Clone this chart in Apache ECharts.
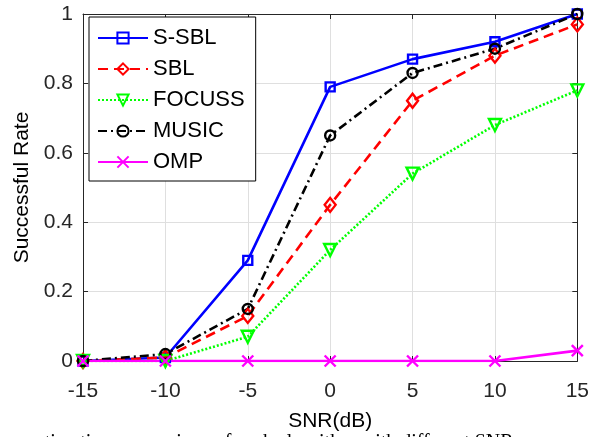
<!DOCTYPE html>
<html>
<head>
<meta charset="utf-8">
<script src="https://cdn.jsdelivr.net/npm/echarts@6/dist/echarts.min.js"></script>
<style>
html,body{margin:0;padding:0;background:#fff;}
#chart{width:592px;height:437px;}
</style>
</head>
<body>
<div id="chart"></div>
<script>
const snr = [-15, -10, -5, 0, 5, 10, 15];
const sSBL   = [0, 0.01, 0.29, 0.79, 0.87, 0.92, 1.0];
const sbl    = [0, 0.01, 0.13, 0.45, 0.75, 0.88, 0.97];
const focuss = [0, 0, 0.07, 0.32, 0.54, 0.68, 0.78];
const music  = [0, 0.02, 0.15, 0.65, 0.83, 0.90, 1.0];
const omp    = [0, 0, 0, 0, 0, 0, 0.03];
const xTicks = [-15, -10, -5, 0, 5, 10, 15];
const yTicks = [0, 0.2, 0.4, 0.6, 0.8, 1];

const FONT = 'Liberation Sans';
const AX = '#262626';

function pts(arr){ return snr.map((x,i)=>[x, arr[i]]); }

function mk(name, data, color, type, symbol, size, extra){
  return Object.assign({
    name: name, type: 'line', data: pts(data),
    symbol: symbol, symbolSize: size,
    showAllSymbol: true,
    lineStyle: {color: color, width: 2.6, type: type},
    itemStyle: {color: 'rgba(0,0,0,0)', borderColor: color, borderWidth: 2.4},
    emphasis: {disabled: true},
    animation: false
  }, extra || {});
}

const chart = echarts.init(document.getElementById('chart'), null, {renderer: 'canvas'});
const gridLine = {show: true, lineStyle: {color: '#dfdfdf', width: 1}};
const option = {
  backgroundColor: '#fff',
  animation: false,
  grid: {left: 83, right: 13, top: 14, bottom: 74},
  legend: {
    orient: 'vertical', left: 89, top: 17,
    backgroundColor: '#fff', borderColor: '#000', borderWidth: 1,
    padding: [10, 11, 8, 8],
    itemWidth: 50, itemHeight: 14, itemGap: 9,
    textStyle: {fontFamily: FONT, fontSize: 22, color: '#000'},
    data: ['S-SBL', 'SBL', 'FOCUSS', 'MUSIC', 'OMP']
  },
  xAxis: [{
    type: 'value', min: xTicks[0], max: xTicks[xTicks.length-1], interval: 5,
    name: 'SNR(dB)', nameLocation: 'middle', nameGap: 50,
    nameTextStyle: {fontFamily: FONT, fontSize: 21, color: '#000'},
    axisLine: {show: true, onZero: false, lineStyle: {color: AX, width: 1}},
    axisTick: {show: true, inside: true, length: 5, lineStyle: {color: AX}},
    axisLabel: {fontFamily: FONT, fontSize: 21, color: AX, margin: 20},
    splitLine: gridLine
  }, {
    type: 'value', position: 'top', min: -15, max: 15, interval: 5,
    axisLine: {show: true, onZero: false, lineStyle: {color: AX, width: 1}},
    axisTick: {show: true, inside: true, length: 5, lineStyle: {color: AX}},
    axisLabel: {show: false}, splitLine: {show: false}
  }],
  yAxis: [{
    type: 'value', min: yTicks[0], max: yTicks[yTicks.length-1], interval: 0.2,
    name: 'Successful Rate', nameLocation: 'middle', nameGap: 49,
    nameTextStyle: {fontFamily: FONT, fontSize: 21, color: '#000'},
    axisLine: {show: true, onZero: false, lineStyle: {color: AX, width: 1}},
    axisTick: {show: true, inside: true, length: 5, lineStyle: {color: AX}},
    axisLabel: {fontFamily: FONT, fontSize: 21, color: AX, margin: 10},
    splitLine: gridLine
  }, {
    type: 'value', position: 'right', min: 0, max: 1, interval: 0.2,
    axisLine: {show: true, onZero: false, lineStyle: {color: AX, width: 1}},
    axisTick: {show: true, inside: true, length: 5, lineStyle: {color: AX}},
    axisLabel: {show: false}, splitLine: {show: false}
  }],
  series: [
    mk('S-SBL', sSBL, '#0000ff', 'solid', 'rect', 9),
    mk('SBL', sbl, '#ff0000', [10, 6], 'diamond', [11, 14]),
    mk('FOCUSS', focuss, '#00ff00', [2, 2], 'triangle', 12, {symbolRotate: 180}),
    mk('MUSIC', music, '#000000', [9, 4, 2, 4], 'circle', 10),
    mk('OMP', omp, '#ff00ff', 'solid', 'path://M0,0L10,10M10,0L0,10', 11)
  ],
  graphic: [{
    type: 'text', left: 28, top: 433,
    style: {text: 'estimation comparison of each algorithm with different SNR',
      fontFamily: 'Liberation Serif', fontSize: 20, fill: '#000'}
  }]
};
chart.setOption(option);
</script>
</body>
</html>
